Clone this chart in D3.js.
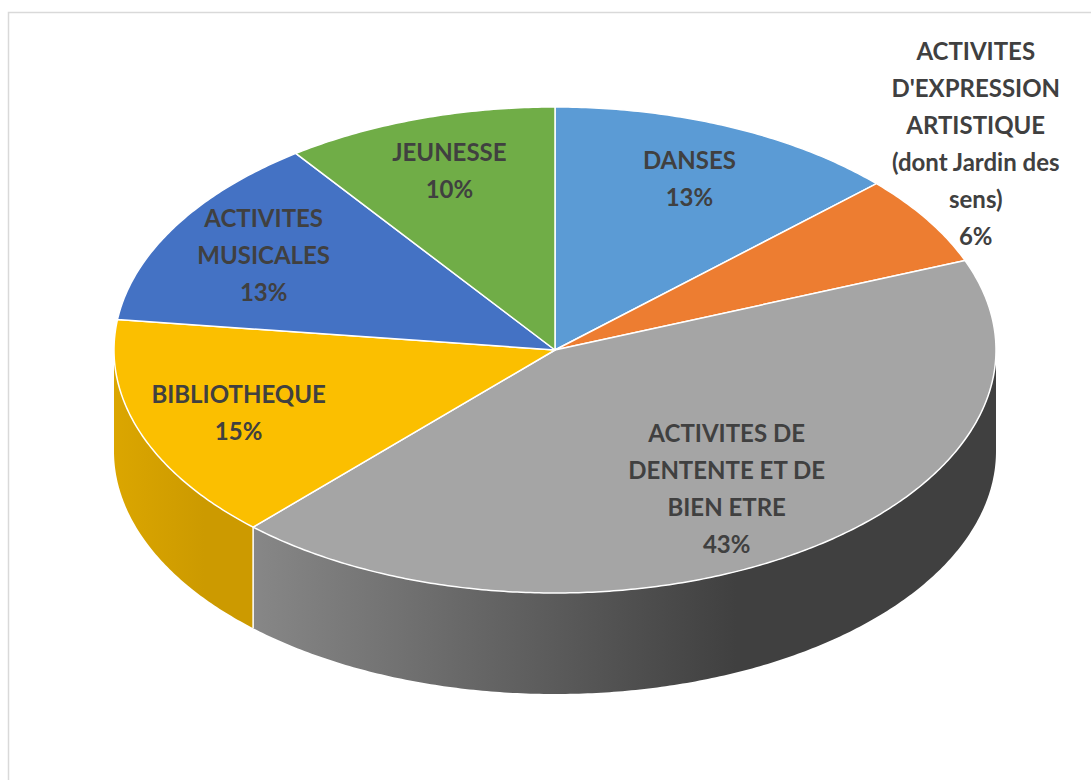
<!DOCTYPE html>
<html>
<head>
<meta charset="utf-8">
<script src="https://cdn.jsdelivr.net/npm/d3@7"></script>
<style>
  body { margin: 0; background: #fff; }
  svg { display: block; }
</style>
</head>
<body>
<script>
// slices, clockwise from 12 o'clock
var categories = [
  "DANSES",
  "ACTIVITES D'EXPRESSION ARTISTIQUE (dont Jardin des sens)",
  "ACTIVITES DE DENTENTE ET DE BIEN ETRE",
  "BIBLIOTHEQUE",
  "ACTIVITES MUSICALES",
  "JEUNESSE"
];
var values = [13, 6, 43, 15, 13, 10];

var topColors = ["#5b9bd5", "#ed7d31", "#a5a5a5", "#fbbf00", "#4472c4", "#70ad47"];
var sideLight = ["#4a86bd", "#c9662a", "#878787", "#dba600", "#3861a8", "#5e933b"];
var sideDark  = ["#2f5f8a", "#8f471c", "#404040", "#cc9a00", "#27457a", "#436a2a"];

var width = 1091,
    height = 780,
    cx = 555, cy = 350,   // centre of the top face
    rx = 441, ry = 243,   // radii of the top face
    depth = 101,
    fontSize = 24,
    lineH = 37,
    wrapInside = 204,
    wrapOutside = 190;

var svg = d3.select("body").append("svg")
    .attr("width", width)
    .attr("height", height);

// chart area frame
svg.append("rect")
    .attr("x", 8.5).attr("y", 12.5)
    .attr("width", 1200).attr("height", 900)
    .attr("fill", "none")
    .attr("stroke", "#d9d9d9")
    .attr("stroke-width", 1.5);

var arcs = d3.pie().sort(null).value(function(d) { return d; })(values);

function ex(a) { return cx + rx * Math.sin(a); }
function ey(a) { return cy - ry * Math.cos(a); }

function rimPoints(a0, a1, dy) {
  var n = Math.max(2, Math.ceil(Math.abs(a1 - a0) / 0.01));
  return d3.range(n + 1).map(function(i) {
    var a = a0 + (a1 - a0) * i / n;
    return [ex(a), ey(a) + dy];
  });
}

var line = d3.line();
var defs = svg.append("defs");

// side walls (only the front half of the cylinder shows)
var sides = svg.append("g");
arcs.forEach(function(d, i) {
  var a0 = Math.max(d.startAngle, Math.PI / 2),
      a1 = Math.min(d.endAngle, 3 * Math.PI / 2);
  if (a1 <= a0) return;
  var top = rimPoints(a0, a1, 0),
      bottom = rimPoints(a1, a0, depth);
  var xs = top.map(function(p) { return p[0]; });
  var x0 = d3.min(xs), x1 = d3.max(xs);
  var g = defs.append("linearGradient")
      .attr("id", "side" + i)
      .attr("gradientUnits", "userSpaceOnUse")
      .attr("x1", x0).attr("y1", 0).attr("x2", x1).attr("y2", 0);
  g.append("stop").attr("offset", 0).attr("stop-color", sideLight[i]);
  g.append("stop").attr("offset", 0.65).attr("stop-color", sideDark[i]);
  g.append("stop").attr("offset", 1).attr("stop-color", sideDark[i]);
  sides.append("path")
      .attr("d", line(top.concat(bottom)) + "Z")
      .attr("fill", "url(#side" + i + ")");
});

// seams between side walls
arcs.forEach(function(d) {
  var a = d.endAngle;
  if (a > Math.PI / 2 && a < 3 * Math.PI / 2) {
    sides.append("line")
        .attr("x1", ex(a)).attr("y1", ey(a))
        .attr("x2", ex(a)).attr("y2", ey(a) + depth)
        .attr("stroke", "#fff")
        .attr("stroke-width", 1.5);
  }
});

// top face
svg.append("g").selectAll("path")
  .data(arcs)
  .enter().append("path")
    .attr("d", function(d) {
      return line([[cx, cy]].concat(rimPoints(d.startAngle, d.endAngle, 0))) + "Z";
    })
    .attr("fill", function(d, i) { return topColors[i]; })
    .attr("stroke", "#fff")
    .attr("stroke-width", 1.5)
    .attr("stroke-linejoin", "round");

// labels
var labels = svg.append("g")
    .attr("font-family", "Lato, 'Open Sans', sans-serif")
    .attr("font-weight", "bold")
    .attr("font-size", fontSize)
    .attr("fill", "#404040")
    .attr("text-anchor", "middle");

var total = d3.sum(values);

function wrap(str, maxW) {
  var probe = labels.append("text");
  var words = str.split(" "), lines = [], cur = "";
  words.forEach(function(w) {
    var test = cur ? cur + " " + w : w;
    probe.text(test);
    if (cur && probe.node().getComputedTextLength() > maxW) {
      lines.push(cur);
      cur = w;
    } else {
      cur = test;
    }
  });
  lines.push(cur);
  probe.remove();
  return lines;
}

arcs.forEach(function(d, i) {
  var mid = (d.startAngle + d.endAngle) / 2;
  var share = values[i] / total;
  var inside = share > 0.08;
  // bigger slices get their label pulled a bit more toward the centre
  var k = 0.8 - 0.25 * share;
  var kx = inside ? k : 1.13,
      ky = inside ? k : 1.58;
  var x = cx + rx * kx * Math.sin(mid),
      y = cy - ry * ky * Math.cos(mid);
  var lines = wrap(categories[i], inside ? wrapInside : wrapOutside);
  lines.push(Math.round(share * 100) + "%");
  var first = y - (lines.length - 1) * lineH / 2 + fontSize * 0.36;
  var t = labels.append("text").attr("x", x).attr("y", first);
  lines.forEach(function(s, j) {
    t.append("tspan")
        .attr("x", x)
        .attr("dy", j ? lineH : 0)
        .text(s);
  });
});
</script>
</body>
</html>
